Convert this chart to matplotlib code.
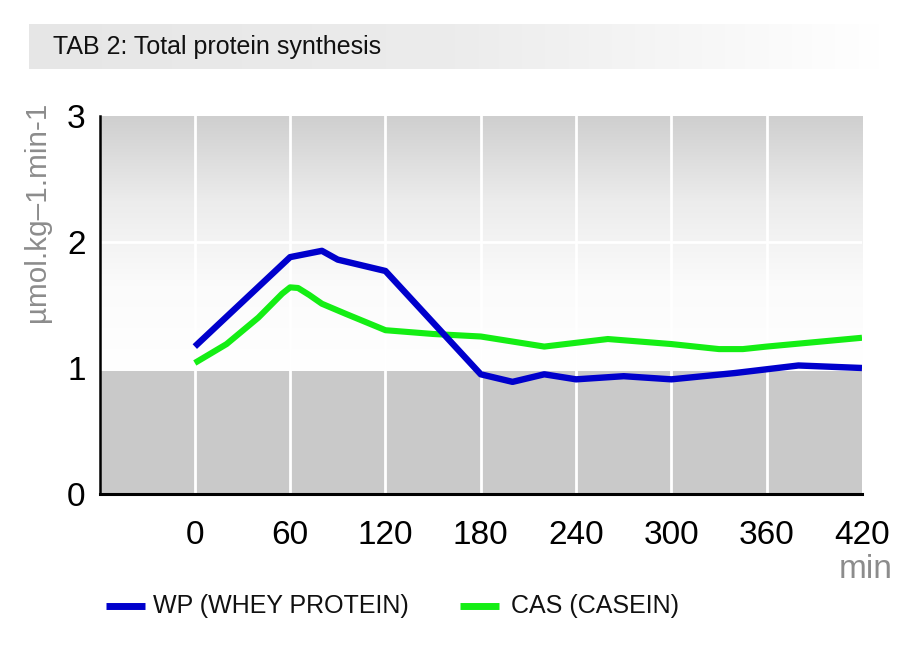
import numpy as np
import matplotlib
matplotlib.use("Agg")
import matplotlib.pyplot as plt
from matplotlib.colors import LinearSegmentedColormap
from matplotlib.lines import Line2D

plt.rcParams['font.family'] = ['Liberation Sans', 'DejaVu Sans']

# ---- data ----
title = "TAB 2: Total protein synthesis"
ylabel = "µmol.kg–1.min-1"
xlabel = "min"
xticks = [0, 60, 120, 180, 240, 300, 360, 420]
yticks = [0, 1, 2, 3]

wp_label = "WP (WHEY PROTEIN)"
wp_t = [0, 60, 80, 90, 120, 180, 200, 220, 240, 270, 300, 340, 380, 420]
wp_v = [1.17, 1.88, 1.93, 1.86, 1.77, 0.95, 0.89, 0.95, 0.91, 0.935, 0.91, 0.96, 1.02, 1.00]

cas_label = "CAS (CASEIN)"
cas_t = [0, 20, 40, 55, 60, 65, 72, 80, 95, 120, 150, 180, 220, 260, 300, 330, 345, 360, 420]
cas_v = [1.04, 1.19, 1.40, 1.59, 1.64, 1.635, 1.58, 1.51, 1.43, 1.30, 1.27, 1.25, 1.17, 1.23, 1.19, 1.15, 1.15, 1.17, 1.24]

WP_COLOR = '#0000cc'
CAS_COLOR = '#14ee14'

W, H = 912, 645
fig = plt.figure(figsize=(W / 100, H / 100), dpi=100)

# ---- title bar ----
tax = fig.add_axes([29 / W, 1 - 69 / H, (882 - 29) / W, 45 / H])
tcm = LinearSegmentedColormap.from_list('t', ['#e6e6e6', '#ececec', '#ffffff'])
tax.imshow(np.linspace(0, 1, 256)[None, :], cmap=tcm, aspect='auto', extent=[0, 1, 0, 1])
tax.set_axis_off()
fig.text(53 / W, 1 - 47 / H, title, fontsize=18, color='#111111', ha='left', va='center')

# ---- main axes ----
ax = fig.add_axes([99.5 / W, 1 - 494 / H, (862 - 99.5) / W, (494 - 116) / H])
ax.set_xlim(-60, 420)
ax.set_ylim(0, 3)

split = 0.98
bcm = LinearSegmentedColormap.from_list('b', ['#ffffff', '#fbfbfb', '#ececec', '#cfcfcf'])
ax.imshow(np.linspace(0, 1, 256)[:, None], cmap=bcm, aspect='auto', origin='lower',
          extent=[-60, 420, split, 3], zorder=0)
ax.axhspan(0, split, color='#c9c9c9', zorder=0.5, lw=0)

for x in xticks[:-1]:
    ax.axvline(x, color='white', lw=2, zorder=1)
ax.axhline(2, color='white', lw=2, zorder=1)

ax.plot(cas_t, cas_v, color=CAS_COLOR, lw=4.4, solid_joinstyle='round', solid_capstyle='butt', zorder=3)
ax.plot(wp_t, wp_v, color=WP_COLOR, lw=4.6, solid_joinstyle='round', solid_capstyle='butt', zorder=4)

ax.set_xticks(xticks)
ax.set_xticklabels([str(t) for t in xticks])
ax.set_yticks(yticks)
ax.set_yticklabels([str(v) for v in yticks])
ax.tick_params(axis='both', length=0, labelsize=24, colors='black')
ax.tick_params(axis='x', pad=19)
ax.tick_params(axis='y', pad=10)
for s in ['top', 'right']:
    ax.spines[s].set_visible(False)
ax.spines['left'].set_linewidth(1.8)
ax.spines['bottom'].set_linewidth(2.2)
ax.spines['left'].set_zorder(5)
ax.spines['bottom'].set_zorder(5)

fig.text(37 / W, 1 - 212 / H, ylabel, rotation=90, fontsize=21.3, color='#8c8c8c',
         ha='center', va='center')
fig.text(866 / W, 1 - 570 / H, xlabel, fontsize=24, color='#8c8c8c', ha='center', va='center')

# ---- legend ----
ly = 1 - 606 / H
for (x0, x1, tx, col, lab) in [(106, 145, 153, WP_COLOR, wp_label),
                               (460, 499, 511, CAS_COLOR, cas_label)]:
    fig.add_artist(Line2D([x0 / W, x1 / W], [ly, ly], color=col, lw=5, solid_capstyle='butt',
                          transform=fig.transFigure))
    fig.text(tx / W, ly, lab, fontsize=18, color='#111111', ha='left', va='center')

fig.savefig('out.png', dpi=100)
